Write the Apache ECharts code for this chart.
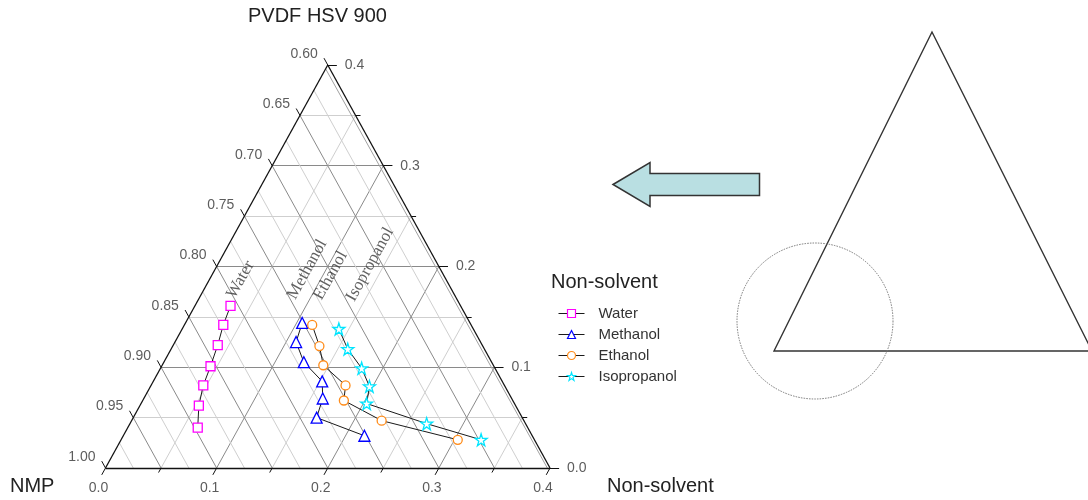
<!DOCTYPE html>
<html>
<head>
<meta charset="utf-8">
<title>PVDF HSV 900 ternary cloud points</title>
<script src="https://cdn.jsdelivr.net/npm/echarts@6/dist/echarts.min.js"></script>
<style>
  html, body { margin: 0; padding: 0; background: #ffffff; }
  #chart { width: 1088px; height: 500px; }
</style>
</head>
<body>
<div id="chart"></div>
<script>
// Compositions as [non-solvent, PVDF] mass fractions; NMP makes up the rest.
const seriesNames = ['Water', 'Methanol', 'Ethanol', 'Isopropanol'];
const water       = [[0.032, 0.161], [0.035, 0.142], [0.040, 0.122], [0.044, 0.101], [0.047, 0.082], [0.053, 0.062], [0.063, 0.040]];
const methanol    = [[0.105, 0.144], [0.109, 0.125], [0.126, 0.105], [0.152, 0.086], [0.161, 0.069], [0.165, 0.050], [0.217, 0.032]];
const ethanol     = [[0.115, 0.142], [0.132, 0.121], [0.145, 0.102], [0.175, 0.082], [0.181, 0.067], [0.225, 0.047], [0.303, 0.028]];
const isopropanol = [[0.141, 0.138], [0.159, 0.118], [0.181, 0.099], [0.197, 0.081], [0.203, 0.064], [0.267, 0.044], [0.324, 0.028]];

// Axis tick labels
const nmpTicks  = ['0.60', '0.65', '0.70', '0.75', '0.80', '0.85', '0.90', '0.95', '1.00'];
const pvdfTicks = ['0.0', '0.1', '0.2', '0.3', '0.4'];
const nsTicks   = ['0.0', '0.1', '0.2', '0.3', '0.4'];

// Axis titles
const topTitle = 'PVDF HSV 900';
const leftTitle = 'NMP';
const rightTitle = 'Non-solvent';
const legendTitle = 'Non-solvent';

// ---- ternary helpers -------------------------------------------------------
// The plotted region is NMP >= 0.6, so non-solvent and PVDF both span 0..0.4.
const SPAN = 0.4;
function toXY(ns, p) { return [ns + p / 2, p]; }

const MAJOR = '#8a8a8a';
const MINOR = '#cfcfcf';

function seg(a, b, color, width) {
  return { coords: [toXY(a[0], a[1]), toXY(b[0], b[1])], lineStyle: { color: color, width: width || 1, opacity: 1 } };
}
const near = (v, step) => Math.abs(v / step - Math.round(v / step)) < 1e-6;

// grid lines
const gridLines = [];
for (let i = 1; i < 8; i++) {              // constant PVDF (horizontal), every 0.05
  const p = i * 0.05;
  gridLines.push(seg([0, p], [SPAN - p, p], near(p, 0.1) ? MAJOR : MINOR));
}
for (let i = 1; i < 8; i++) {              // constant non-solvent, every 0.05
  const a = i * 0.05;
  gridLines.push(seg([a, 0], [a, SPAN - a], near(a, 0.1) ? MAJOR : MINOR));
}
for (let i = 1; i < 16; i++) {             // constant NMP, every 0.025
  const s = i * 0.025;                     // s = 1 - NMP
  gridLines.push(seg([s, 0], [0, s], near(s, 0.05) ? MAJOR : MINOR));
}

// triangle frame
const frame = [
  seg([0, 0], [SPAN, 0], '#111', 1.3),
  seg([0, 0], [0, SPAN], '#111', 1.3),
  seg([SPAN, 0], [0, SPAN], '#111', 1.3)
];
// inner companion line along the PVDF axis
const pvdfShadow = { coords: [[SPAN - 0.0024, 0], [SPAN / 2 - 0.0018, SPAN - 0.004]], lineStyle: { color: '#a0a0a0', width: 1, opacity: 1 } };

// ticks (drawn as short extensions of the grid directions)
const ticks = [];
const tickLabels = [];
nmpTicks.forEach(t => {                     // left axis: NMP, outward along constant-NMP lines
  const s = 1 - parseFloat(t);
  const d = 0.0068;
  ticks.push(seg([0, s], [-d, s + d], '#111', 1));
  tickLabels.push({ name: t, value: toXY(0, s), label: { align: 'right', verticalAlign: 'middle', offset: [-10, -11] } });
});
for (let i = 0; i <= 8; i++) {              // right axis: PVDF, horizontal ticks
  const p = i * 0.05;
  const d = near(p, 0.1) ? 0.0082 : 0.0045;
  ticks.push(seg([SPAN - p, p], [SPAN - p + d, p], '#111', 1));
}
pvdfTicks.forEach(t => {
  const p = parseFloat(t);
  tickLabels.push({ name: t, value: toXY(SPAN - p, p), label: { align: 'left', verticalAlign: 'middle', offset: [17, 0] } });
});
for (let i = 0; i <= 8; i++) {              // bottom axis: non-solvent, outward along constant-NS lines
  const a = i * 0.05;
  const d = near(a, 0.1) ? 0.0068 : 0.0045;
  ticks.push(seg([a, 0], [a, -d], '#111', 1));
}
nsTicks.forEach(t => {
  const a = parseFloat(t);
  tickLabels.push({ name: t, value: toXY(a, 0), label: { align: 'center', verticalAlign: 'middle', offset: [-7, 20] } });
});

// curve names written along the plot, anchored at a composition
const curveTags = [
  { name: 'Water',       value: toXY(0.028, 0.187) },
  { name: 'Methanol',    value: toXY(0.083, 0.197) },
  { name: 'Ethanol',     value: toXY(0.107, 0.191) },
  { name: 'Isopropanol', value: toXY(0.137, 0.202) }
];

const STAR = 'path://M50,2 L61,36 L97,36 L68,57 L79,92 L50,71 L21,92 L32,57 L3,36 L39,36 Z';
const markerStyles = [
  { color: '#ff00ff', symbol: 'rect',     size: 9 },
  { color: '#0000ff', symbol: 'triangle', size: 11 },
  { color: '#ff8c1a', symbol: 'circle',   size: 9 },
  { color: '#00e5ff', symbol: STAR,       size: 12 }
];
const curves = [water, methanol, ethanol, isopropanol];

const dataSeries = curves.map((pts, k) => ({
  name: seriesNames[k],
  type: 'line',
  data: pts.map(q => toXY(q[0], q[1])),
  symbol: markerStyles[k].symbol,
  symbolSize: markerStyles[k].size,
  showAllSymbol: true,
  lineStyle: { color: '#1a1a1a', width: 1 },
  itemStyle: { color: '#ffffff', borderColor: markerStyles[k].color, borderWidth: 1.3 },
  z: 10,
  clip: false,
  animation: false
}));

const chart = echarts.init(document.getElementById('chart'), null, { renderer: 'canvas' });

chart.setOption({
  backgroundColor: '#ffffff',
  animation: false,
  textStyle: { fontFamily: 'Liberation Sans, Arial, sans-serif' },
  grid: { left: 105.5, right: 538, top: 65, bottom: 32, containLabel: false },
  xAxis: { type: 'value', min: 0, max: SPAN, show: false },
  yAxis: { type: 'value', min: 0, max: SPAN, show: false },
  legend: {
    data: seriesNames,
    orient: 'vertical',
    left: 553,
    top: 301,
    itemWidth: 26,
    itemHeight: 10,
    itemGap: 6,
    itemStyle: { color: '#ffffff', borderWidth: 1.2 },
    lineStyle: { width: 1 },
    textStyle: { fontSize: 15, color: '#333', padding: [0, 0, 0, 9] },
    selectedMode: false
  },
  graphic: [
    { type: 'text', left: 248, top: 6, style: { text: topTitle, font: '20px "Liberation Sans", Arial, sans-serif', fill: '#222' } },
    { type: 'text', left: 10, top: 476, style: { text: leftTitle, font: '20px "Liberation Sans", Arial, sans-serif', fill: '#222' } },
    { type: 'text', left: 607, top: 476, style: { text: rightTitle, font: '20px "Liberation Sans", Arial, sans-serif', fill: '#222' } },
    { type: 'text', left: 551, top: 272, style: { text: legendTitle, font: '20px "Liberation Sans", Arial, sans-serif', fill: '#222' } },
    // arrow pointing back to the enlarged corner
    { type: 'polygon', shape: { points: [[613, 184.5], [650, 162.5], [650, 173.5], [759.5, 173.5], [759.5, 195.5], [650, 195.5], [650, 206.5]] },
      style: { fill: '#b9dfe2', stroke: '#333', lineWidth: 1.5 } },
    // full composition triangle with the enlarged corner circled
    { type: 'polyline', shape: { points: [[1092, 351], [932, 32], [774, 351], [1092, 351]] },
      style: { fill: null, stroke: '#333', lineWidth: 1.4 } },
    { type: 'circle', shape: { cx: 815, cy: 321, r: 78 },
      style: { fill: null, stroke: '#777', lineWidth: 1, lineDash: [1.5, 1.2] } }
  ],
  series: [
    { type: 'lines', coordinateSystem: 'cartesian2d', data: gridLines, silent: true, clip: false, z: 1, animation: false,
      lineStyle: { opacity: 1 } },
    { type: 'lines', coordinateSystem: 'cartesian2d', data: [pvdfShadow].concat(frame, ticks), silent: true, clip: false, z: 2, animation: false,
      lineStyle: { opacity: 1 } },
    { type: 'scatter', data: tickLabels, symbolSize: 0, silent: true, clip: false, z: 3,
      label: { show: true, position: 'inside', formatter: '{b}', fontSize: 14, color: '#333', fontFamily: 'Liberation Sans, Arial, sans-serif' } },
    { type: 'scatter', data: curveTags, symbolSize: 0, silent: true, clip: false, z: 3,
      label: { show: true, position: 'inside', formatter: '{b}', rotate: 61, fontSize: 17, color: '#3a3a3a', fontFamily: 'Liberation Serif, Times New Roman, serif' } }
  ].concat(dataSeries)
});
</script>
</body>
</html>
